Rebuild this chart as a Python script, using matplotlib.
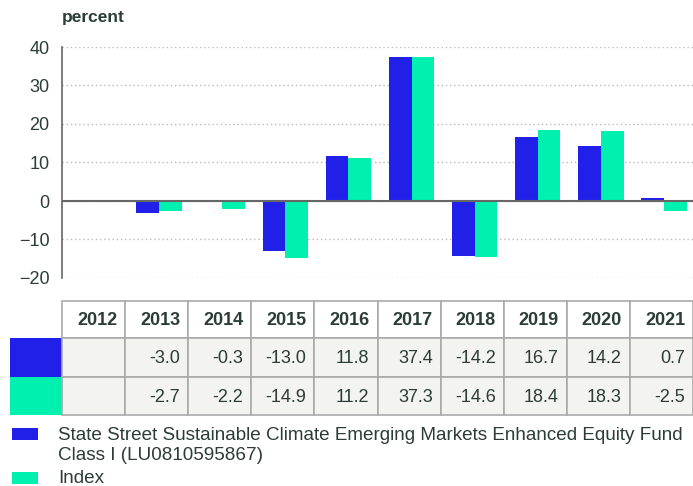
import numpy as np
import matplotlib
matplotlib.use('Agg')
import matplotlib.pyplot as plt
from matplotlib.patches import Rectangle

plt.rcParams['font.family'] = ['Liberation Sans', 'DejaVu Sans']

YEARS = ['2012', '2013', '2014', '2015', '2016', '2017', '2018', '2019', '2020', '2021']
FUND = [np.nan, -3.0, -0.3, -13.0, 11.8, 37.4, -14.2, 16.7, 14.2, 0.7]
INDEX = [np.nan, -2.7, -2.2, -14.9, 11.2, 37.3, -14.6, 18.4, 18.3, -2.5]
FUND_LABEL = 'State Street Sustainable Climate Emerging Markets Enhanced Equity Fund\nClass I (LU0810595867)'
INDEX_LABEL = 'Index'

BLUE = '#2020e8'
GREEN = '#00f0b0'
TXT = '#2b3d36'
W, H = 693, 486

fig = plt.figure(figsize=(W / 100, H / 100), dpi=100)

# ── bar chart ──────────────────────────────────────────────────────────────
ax = fig.add_axes([62 / W, 1 - 278 / H, 631 / W, 231 / H])
x = np.arange(len(YEARS))
bw = 0.36
ax.bar(x - bw / 2 + 0.04, FUND, width=bw, color=BLUE, zorder=3)
ax.bar(x + bw / 2 + 0.04, INDEX, width=bw, color=GREEN, zorder=3)
ax.set_xlim(-0.5, len(YEARS) - 0.5)
ax.set_ylim(-20, 40)
ax.set_yticks([-20, -10, 0, 10, 20, 30, 40])
ax.tick_params(axis='y', length=0, pad=9, labelsize=13, labelcolor=TXT)
ax.set_xticks([])
for s in ['top', 'right', 'bottom']:
    ax.spines[s].set_visible(False)
ax.spines['left'].set_color('#666666')
ax.spines['left'].set_linewidth(1.2)
ax.yaxis.grid(True, linestyle=(0, (1, 2)), color='#bbbbbb', linewidth=1, zorder=0)
ax.axhline(0, color='#666666', linewidth=1.5, zorder=4)
ax.text(0, 1.095, 'percent', transform=ax.transAxes, fontsize=12.5, fontweight='bold',
        color=TXT, ha='left', va='bottom')

# ── table + legend (pixel space overlay) ───────────────────────────────────
ov = fig.add_axes([0, 0, 1, 1])
ov.set_xlim(0, W)
ov.set_ylim(H, 0)
ov.axis('off')

col_x0, col_w = 62, 63.1
rows_y = [301, 338, 377, 415]
border = '#aaaaaa'

# header row
for i, yr in enumerate(YEARS):
    cx = col_x0 + i * col_w
    ov.add_patch(Rectangle((cx, rows_y[0]), col_w, rows_y[1] - rows_y[0],
                           facecolor='white', edgecolor=border, linewidth=1.2))
    ov.text(cx + col_w - 8, (rows_y[0] + rows_y[1]) / 2 + 1, yr, ha='right', va='center',
            fontsize=13, fontweight='bold', color=TXT)

for r, (vals, col) in enumerate([(FUND, BLUE), (INDEX, GREEN)]):
    y0, y1 = rows_y[r + 1], rows_y[r + 2]
    ov.add_patch(Rectangle((10, y0), col_x0 - 10, y1 - y0, facecolor=col, edgecolor='none'))
    for i, v in enumerate(vals):
        cx = col_x0 + i * col_w
        ov.add_patch(Rectangle((cx, y0), col_w, y1 - y0, facecolor='#f3f3ef',
                               edgecolor=border, linewidth=1.2))
        if not np.isnan(v):
            ov.text(cx + col_w - 8, (y0 + y1) / 2 + 1, f'{v:.1f}', ha='right', va='center',
                    fontsize=13, color=TXT)

# legend
ov.add_patch(Rectangle((12, 428), 26, 12, facecolor=BLUE, edgecolor='none'))
ov.text(58, 427, FUND_LABEL, ha='left', va='top', fontsize=13.6, color=TXT, linespacing=1.25)
ov.add_patch(Rectangle((12, 472), 26, 12, facecolor=GREEN, edgecolor='none'))
ov.text(58, 478, INDEX_LABEL, ha='left', va='center', fontsize=13.6, color=TXT)

fig.savefig('out.png', dpi=100)
